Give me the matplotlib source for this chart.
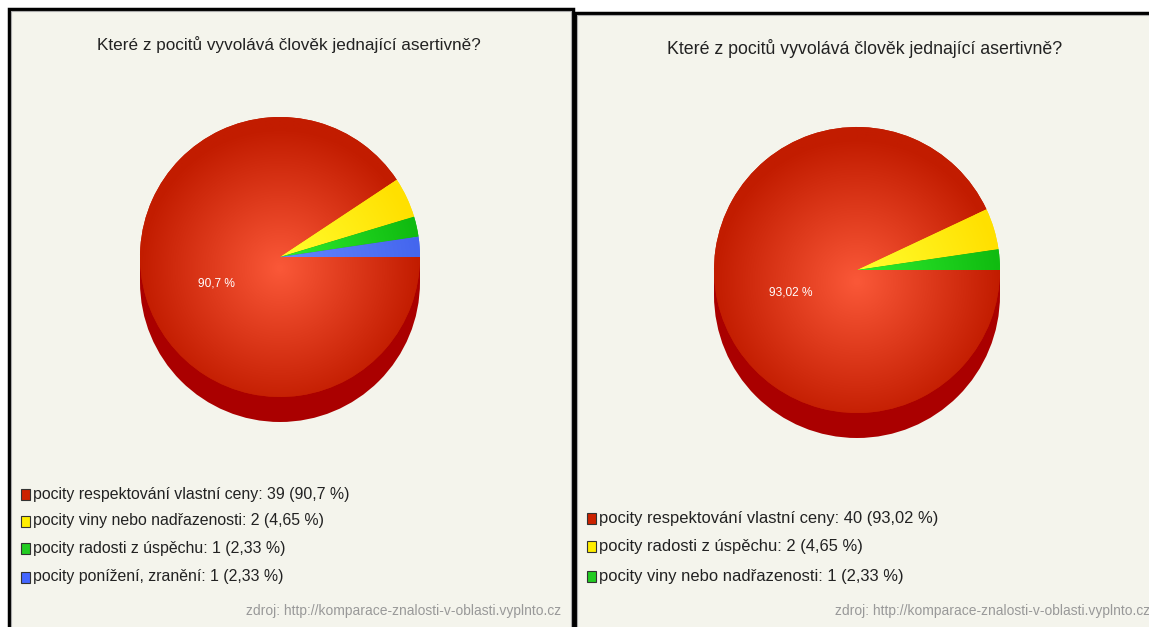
import numpy as np
import matplotlib.pyplot as plt
from matplotlib.patches import Rectangle, Circle
from matplotlib.colors import LinearSegmentedColormap

W, H = 1149, 627
BG = '#f4f4ec'
FONT = ['Liberation Sans', 'DejaVu Sans']

title = 'Které z pocitů vyvolává člověk jednající asertivně?'
source = 'zdroj: http://komparace-znalosti-v-oblasti.vyplnto.cz'

# levy graf
left_labels = ['pocity respektování vlastní ceny', 'pocity viny nebo nadřazenosti',
               'pocity radosti z úspěchu', 'pocity ponížení, zranění']
left_counts = [39, 2, 1, 1]
left_pct = ['90,7', '4,65', '2,33', '2,33']

# pravy graf
right_labels = ['pocity respektování vlastní ceny', 'pocity radosti z úspěchu',
                'pocity viny nebo nadřazenosti']
right_counts = [40, 2, 1]
right_pct = ['93,02', '4,65', '2,33']

# (svetla, tmava) barva pro gradient
left_colors = [('#fa5838', '#c21c00'), ('#ffff30', '#ffe000'),
               ('#30ee30', '#10bb10'), ('#6688ff', '#4466ee')]
right_colors = left_colors[:3]
legend_colors = ['#cc2200', '#ffee00', '#22cc22', '#4466ff']


def Y(y):
    # pixelove souradnice shora -> souradnice os
    return H - y


fig = plt.figure(figsize=(W / 100, H / 100), dpi=100)
ax = fig.add_axes([0, 0, 1, 1])
ax.set_xlim(0, W)
ax.set_ylim(0, H)
ax.axis('off')

# ramecky panelu
for x0, y0, x1 in [(9, 9, 573), (575, 13, 1152)]:
    ax.add_patch(Rectangle((x0, Y(H + 5)), x1 - x0, H + 5 - y0, facecolor=BG,
                           edgecolor='black', linewidth=2.5, zorder=1))
    ax.add_patch(Rectangle((x0 + 2, Y(H + 5)), x1 - x0 - 4, H + 3 - y0, facecolor='none',
                           edgecolor='#aaaaaa', linewidth=0.8, zorder=1))


def draw_pie(cx, cy, r, counts, colors, pct_text):
    depth = 25
    ax.add_patch(Circle((cx, Y(cy + depth)), r, facecolor='#aa0000', edgecolor='none', zorder=2))
    ax.add_patch(Rectangle((cx - r, Y(cy + depth)), 2 * r, depth, facecolor='#aa0000',
                           edgecolor='none', zorder=2))
    wedges, _ = ax.pie(counts, center=(cx, Y(cy)), radius=r, startangle=0,
                       counterclock=False, colors=[c[1] for c in colors])
    n = 300
    gx, gy = np.meshgrid(np.linspace(-1, 1, n), np.linspace(-1, 1, n))
    t = np.clip(np.hypot(gx, gy + 0.08), 0, 1)
    for w, (light, dark) in zip(wedges, colors):
        w.set_zorder(3)
        w.set_edgecolor('none')
        cmap = LinearSegmentedColormap.from_list('g', [light, dark])
        im = ax.imshow(t, cmap=cmap, extent=(cx - r, cx + r, Y(cy) - r, Y(cy) + r),
                       origin='lower', zorder=4, interpolation='bilinear')
        im.set_clip_path(w)
    # popisek procent u nejvetsi vysece
    total = sum(counts)
    mid = -np.pi * counts[0] / total + np.radians(6)
    ax.text(cx + 0.49 * r * np.cos(mid), Y(cy) + 0.49 * r * np.sin(mid), pct_text + ' %',
            color='white', fontsize=8.6, family=FONT, ha='center', va='center', zorder=5)


draw_pie(280, 257, 140, left_counts, left_colors, left_pct[0])
draw_pie(857, 270, 143, right_counts, right_colors, right_pct[0])
ax.set_xlim(0, W)
ax.set_ylim(0, H)
ax.set_aspect('auto')

ax.text(289, Y(45), title, fontsize=12.3, family=FONT, ha='center', va='center', color='#222222')
ax.text(865, Y(48), title, fontsize=12.8, family=FONT, ha='center', va='center', color='#222222')


def draw_legend(x, ys, labels, counts, pct, colors, fs):
    for y, lab, c, p, col in zip(ys, labels, counts, pct, colors):
        ax.add_patch(Rectangle((x, Y(y + 6)), 9, 11, facecolor=col, edgecolor='#333333',
                               linewidth=0.8, zorder=5))
        ax.text(x + 12, Y(y), f'{lab}: {c} ({p} %)', fontsize=fs, family=FONT,
                ha='left', va='center', color='#222222')


draw_legend(21, [494, 521, 548, 577], left_labels, left_counts, left_pct, legend_colors, 11.4)
draw_legend(587, [518, 546, 576], right_labels, right_counts, right_pct, legend_colors, 11.9)

ax.text(561, Y(611), source, fontsize=10, family=FONT, ha='right', va='center', color='#999999')
ax.text(1150, Y(611), source, fontsize=10, family=FONT, ha='right', va='center', color='#999999')

fig.savefig('out.png', dpi=100, facecolor='white')
